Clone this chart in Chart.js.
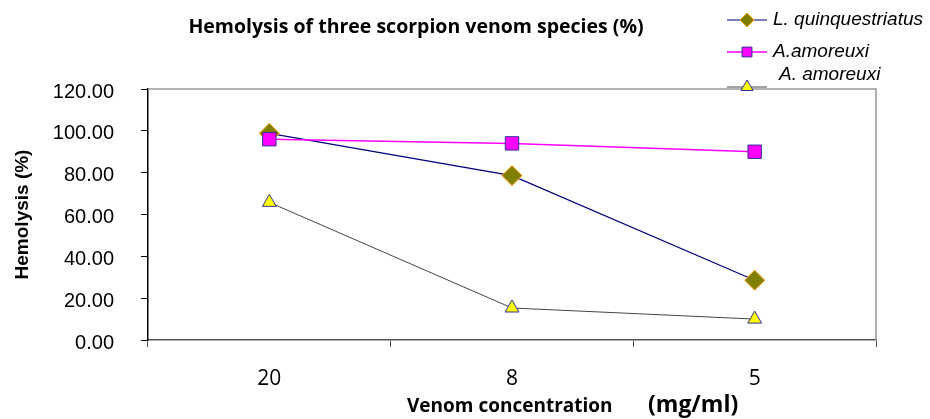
<!DOCTYPE html>
<html>
<head>
<meta charset="utf-8">
<script src="https://cdn.jsdelivr.net/npm/chart.js@4.4.1/dist/chart.umd.min.js"></script>
<style>
  html, body { margin: 0; padding: 0; background: #fff; }
  #wrap { width: 930px; height: 419px; }
</style>
</head>
<body>
<div id="wrap"><canvas id="chart" width="930" height="419"></canvas></div>
<script>
// data
const concentrations = ["20", "8", "5"];
const seriesNames = ["L. quinquestriatus", "A.amoreuxi", "A. amoreuxi"];
const lQuinquestriatus = [98.8, 78.6, 28.6];
const aAmoreuxi = [96.0, 94.0, 90.0];
const aAmoreuxi2 = [65.8, 15.3, 10.0];
const yMin = 0, yMax = 120, yStep = 20;

const TITLE = "Hemolysis of three scorpion venom species (%)";
const X_TITLE_A = "Venom concentration";
const X_TITLE_B = "(mg/ml)";
const Y_TITLE = "Hemolysis (%)";

// legend rows: where each sample line / label sits
const legendRows = [
  { lineY: 20, textX: 773, textY: 20, r: 7 },
  { lineY: 52, textX: 773, textY: 52, r: 7 },
  { lineY: 87, textX: 779, textY: 75, r: 7 }
];

// gray frame on top/right of the plot
const framePlugin = {
  id: "frame",
  beforeDatasetsDraw(chart){
    const {ctx, chartArea:a} = chart;
    ctx.save();
    ctx.strokeStyle = "#999";
    ctx.lineWidth = 1.5;
    ctx.beginPath();
    ctx.moveTo(a.left, a.top);
    ctx.lineTo(a.right, a.top);
    ctx.lineTo(a.right, a.bottom);
    ctx.stroke();
    ctx.restore();
  }
};

// title, x title and legend drawn by hand
const textPlugin = {
  id: "texts",
  afterDraw(chart){
    const ctx = chart.ctx;
    ctx.save();
    ctx.fillStyle = "#000";
    ctx.textBaseline = "middle";

    ctx.font = "bold 19.5px 'Open Sans'";
    ctx.textAlign = "center";
    ctx.fillText(TITLE, 416, 27);

    ctx.textAlign = "left";
    ctx.font = "bold 19px 'Open Sans'";
    ctx.fillText(X_TITLE_A, 407, 407);
    ctx.font = "bold 23px 'Open Sans'";
    ctx.fillText(X_TITLE_B, 648, 405);

    chart.data.datasets.forEach((ds, i) => {
      const row = legendRows[i];
      ctx.strokeStyle = ds.borderColor;
      ctx.lineWidth = ds.borderWidth;
      ctx.beginPath();
      ctx.moveTo(727, row.lineY);
      ctx.lineTo(767, row.lineY);
      ctx.stroke();
      ctx.fillStyle = ds.pointBackgroundColor;
      ctx.strokeStyle = ds.pointBorderColor;
      ctx.lineWidth = 1;
      Chart.helpers.drawPoint(ctx, {pointStyle: ds.pointStyle, radius: row.r, borderWidth: 1}, 747, row.lineY);
      ctx.fillStyle = "#000";
      ctx.font = "italic 19px 'Liberation Sans'";
      ctx.fillText(ds.label, row.textX, row.textY);
    });
    ctx.restore();
  }
};

new Chart(document.getElementById("chart"), {
  type: "line",
  data: {
    labels: concentrations,
    datasets: [
      {
        label: seriesNames[0], data: lQuinquestriatus, order: 2,
        borderColor: "#000080", borderWidth: 1.2,
        pointStyle: "rectRot", pointRadius: 10,
        pointBackgroundColor: "#808000", pointBorderColor: "#FF9900", pointBorderWidth: 1
      },
      {
        label: seriesNames[1], data: aAmoreuxi, order: 1,
        borderColor: "#FF00FF", borderWidth: 1.5,
        pointStyle: "rect", pointRadius: 9.5,
        pointBackgroundColor: "#FF00FF", pointBorderColor: "#333399", pointBorderWidth: 1
      },
      {
        label: seriesNames[2], data: aAmoreuxi2, order: 3,
        borderColor: "#444444", borderWidth: 1,
        pointStyle: "triangle", pointRadius: 8,
        pointBackgroundColor: "#FFFF00", pointBorderColor: "#333399", pointBorderWidth: 1
      }
    ]
  },
  options: {
    responsive: false,
    animation: false,
    devicePixelRatio: 1,
    layout: { padding: { left: 0, right: 54, top: 89, bottom: 0 } },
    plugins: { legend: { display: false }, title: { display: false }, tooltip: { enabled: false } },
    scales: {
      x: {
        type: "category",
        offset: true,
        afterFit(s){ s.height = 79; },
        grid: { offset: true, drawOnChartArea: false, tickLength: 7, color: "#555" },
        border: { color: "#555", width: 1.5 },
        ticks: { color: "#000", padding: 19, font: { family: "'Open Sans'", size: 21 } }
      },
      y: {
        min: yMin, max: yMax,
        afterFit(s){ s.width = 148; },
        grid: { drawOnChartArea: false, tickLength: 7, color: "#000" },
        border: { color: "#000", width: 1.5 },
        ticks: {
          stepSize: yStep, color: "#000", padding: 27, labelOffset: 3,
          font: { family: "'Liberation Sans'", size: 20 },
          callback: v => v.toFixed(2)
        },
        title: {
          display: true, text: Y_TITLE, color: "#000",
          padding: { top: 11, bottom: 0 },
          font: { family: "'Liberation Sans'", size: 19, weight: "bold" }
        }
      }
    }
  },
  plugins: [framePlugin, textPlugin]
});
</script>
</body>
</html>
